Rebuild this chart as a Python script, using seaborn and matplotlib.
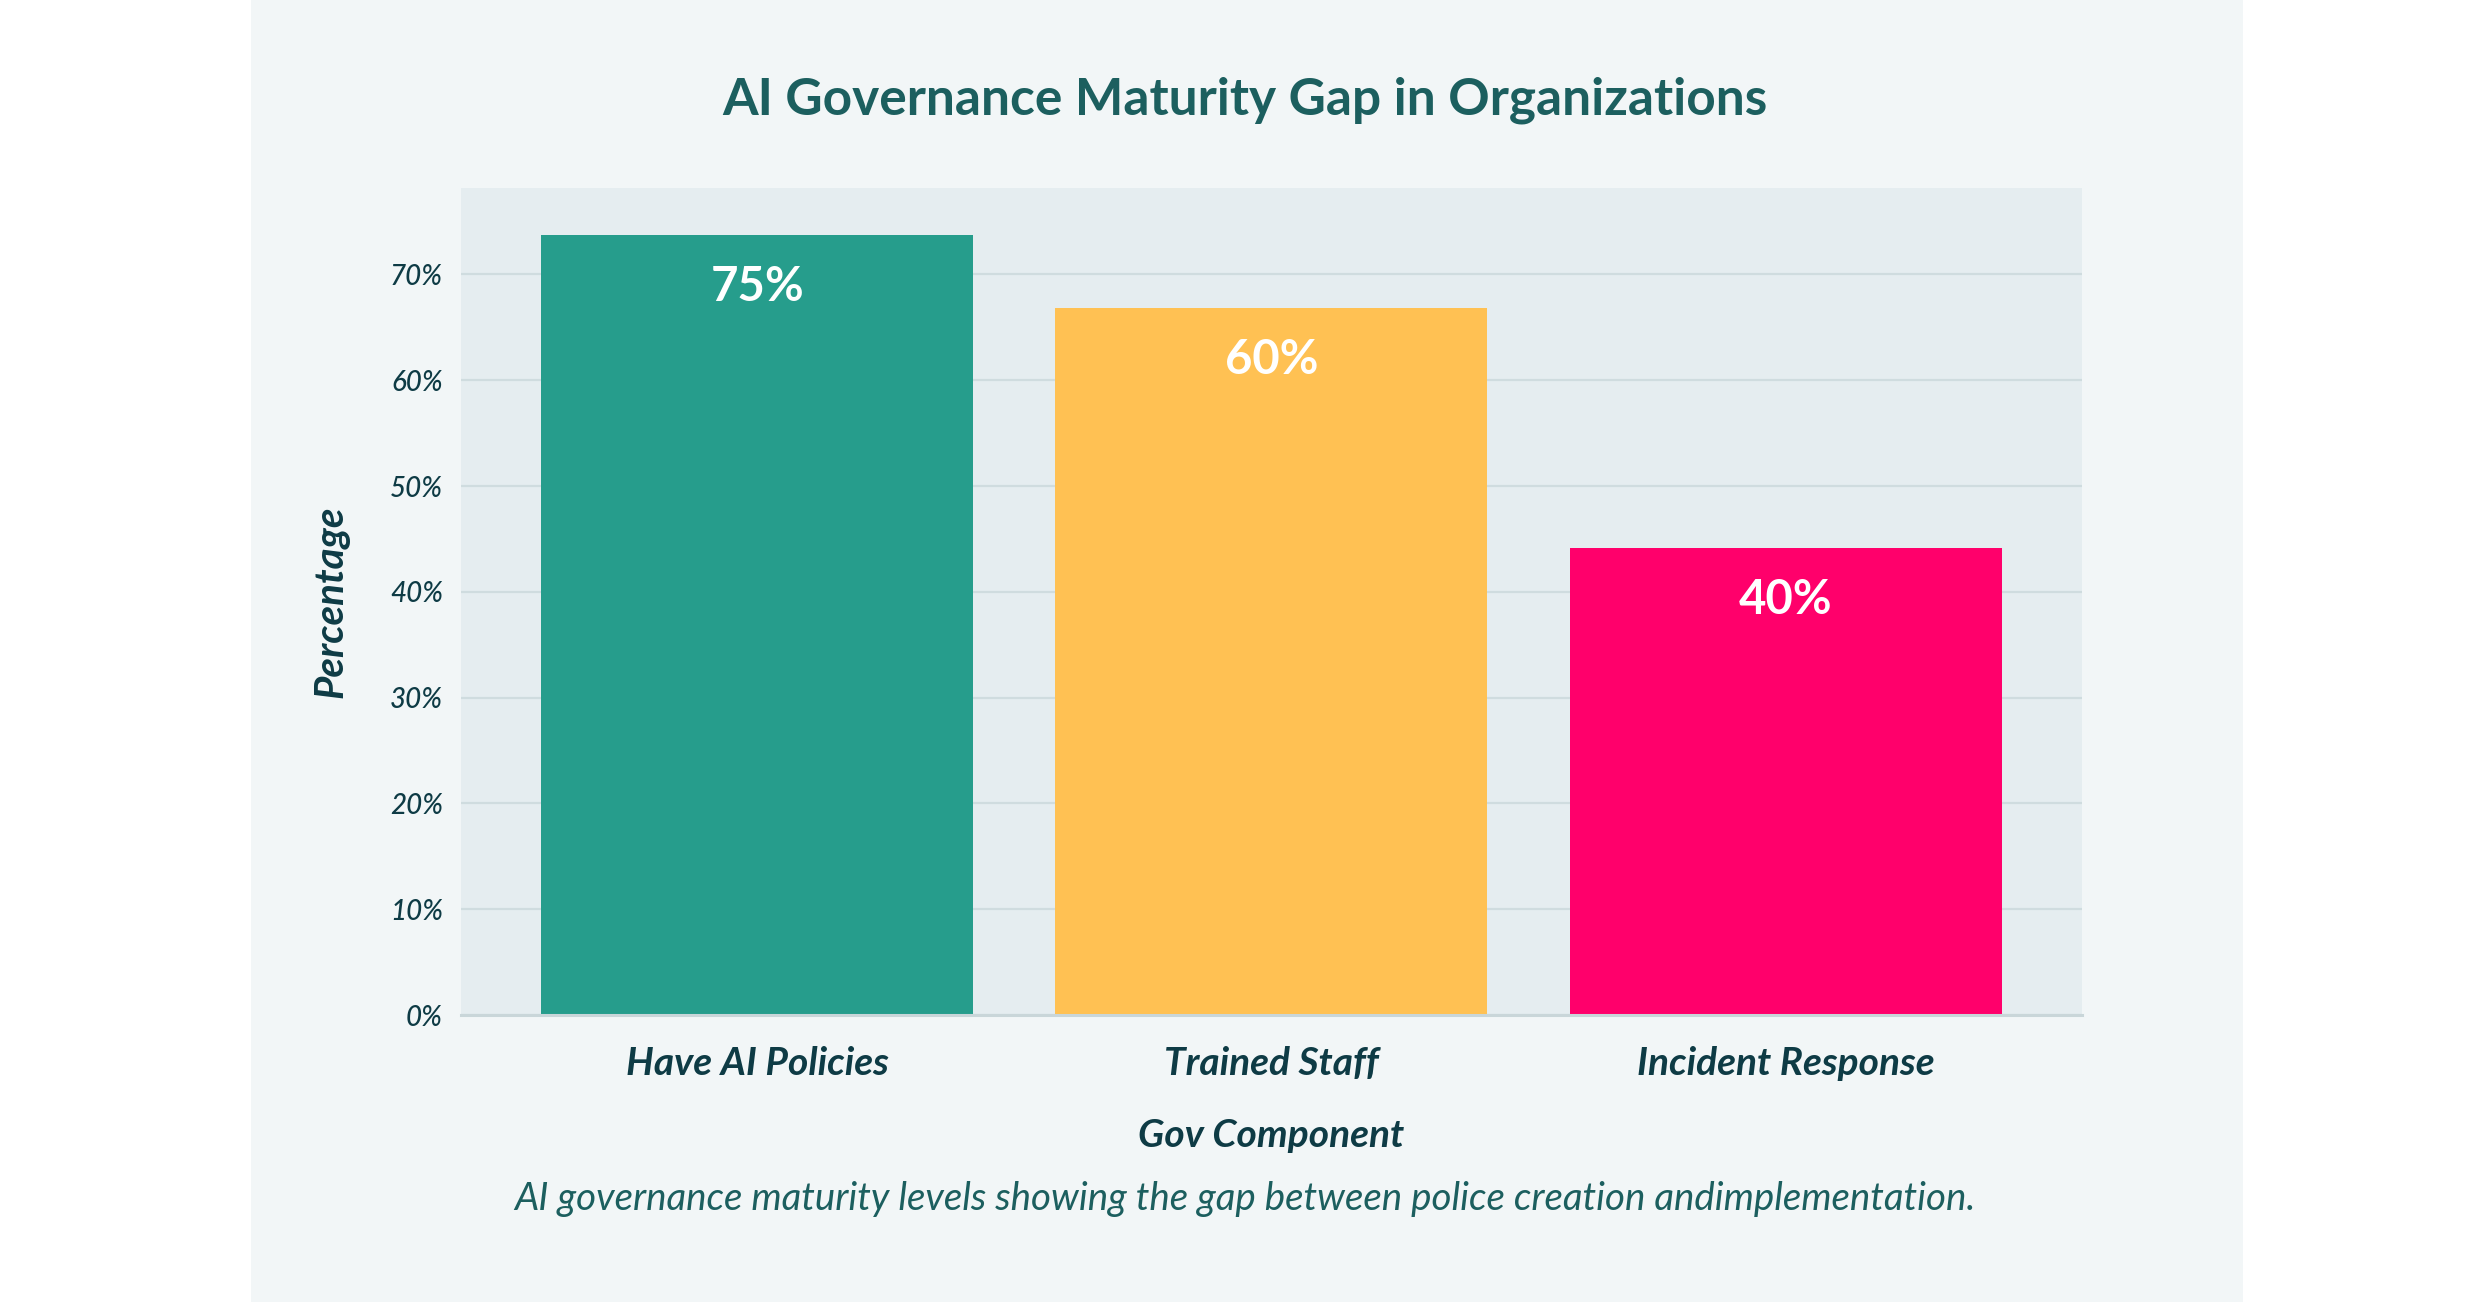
import seaborn as sns
import matplotlib.pyplot as plt
import matplotlib.patches as mpatches
import pandas as pd, numpy as np

## ____data
components = ["Have AI Policies", "Trained Staff", "Incident Response"]
bar_height = [73.7, 66.8, 44.1]
bar_label = ["75%", "60%", "40%"]
colors = ["#269d8c", "#ffc153", "#ff006b"]
yticks = [0, 10, 20, 30, 40, 50, 60, 70]

df = pd.DataFrame({"component": components, "value": bar_height})

## ____theme
sns.set_theme(style="white")
plt.rcParams["font.family"] = ["Lato", "DejaVu Sans"]

ink = "#0e3b45"
teal_txt = "#1c5f5f"

fig = plt.figure(figsize=(24.9, 13.02), dpi=100, facecolor="white")

# fond de la carte
fig.patches.append(mpatches.Rectangle((0.1007, 0), 0.8, 1, transform=fig.transFigure,
                                      facecolor="#f2f6f7", edgecolor="none", zorder=-1))

ax = fig.add_axes([0.18514, 0.22043, 0.6510, 0.63541])
ax.set_zorder(1)
ax.set_facecolor("#e5edf0")

sns.barplot(data=df, x="component", y="value", hue="component",
            palette=colors, legend=False, width=0.84, saturation=1,
            edgecolor="none", ax=ax, zorder=3)

ax.set_xlim(-0.576, 2.576)
ax.set_ylim(0, 78.2)
ax.set_yticks(yticks)
ax.set_yticklabels([f"{t}%" for t in yticks])

ax.grid(axis="y", color="#cfdcdf", linewidth=1.6, zorder=0)
ax.set_axisbelow(True)
for s in ["top", "right", "left"]:
    ax.spines[s].set_visible(False)
ax.spines["bottom"].set_color("#c9d6d9")
ax.spines["bottom"].set_linewidth(2.2)
ax.spines["bottom"].set_zorder(4)

ax.tick_params(axis="y", length=0, pad=13, labelsize=20, labelcolor=ink)
ax.tick_params(axis="x", length=0, pad=22, labelsize=28, labelcolor=ink)
for t in ax.get_yticklabels():
    t.set_fontstyle("italic")
    t.set_fontweight("medium")
for t in ax.get_xticklabels():
    t.set_fontstyle("italic")
    t.set_fontweight("bold")

# étiquettes des barres
for i, lab in enumerate(bar_label):
    ax.annotate(lab, (i, bar_height[i]), xytext=(0, -37), textcoords="offset points",
                ha="center", va="center", color="white", fontsize=34,
                fontweight="bold", zorder=5)

## ____axes
ax.set_xlabel("Gov Component", fontsize=28, fontweight="bold", fontstyle="italic", color=ink)
ax.xaxis.set_label_coords(0.5, -0.159)
ax.xaxis.label.set_va("baseline")
ax.set_ylabel("Percentage", fontsize=29, fontweight="bold", fontstyle="italic", color=ink)
ax.yaxis.set_label_coords(-0.0802, 0.5)
ax.yaxis.label.set_va("center")

## ____titre et légende
fig.text(0.5, 0.9117, "AI Governance Maturity Gap in Organizations", ha="center",
         va="baseline", fontsize=37, fontweight="bold", color=teal_txt)
fig.text(0.5, 0.0707,
         "AI governance maturity levels showing the gap between police creation andimplementation.",
         ha="center", va="baseline", fontsize=27.7, fontstyle="italic", color=teal_txt)

plt.savefig("out.png", dpi=100, facecolor="white")
